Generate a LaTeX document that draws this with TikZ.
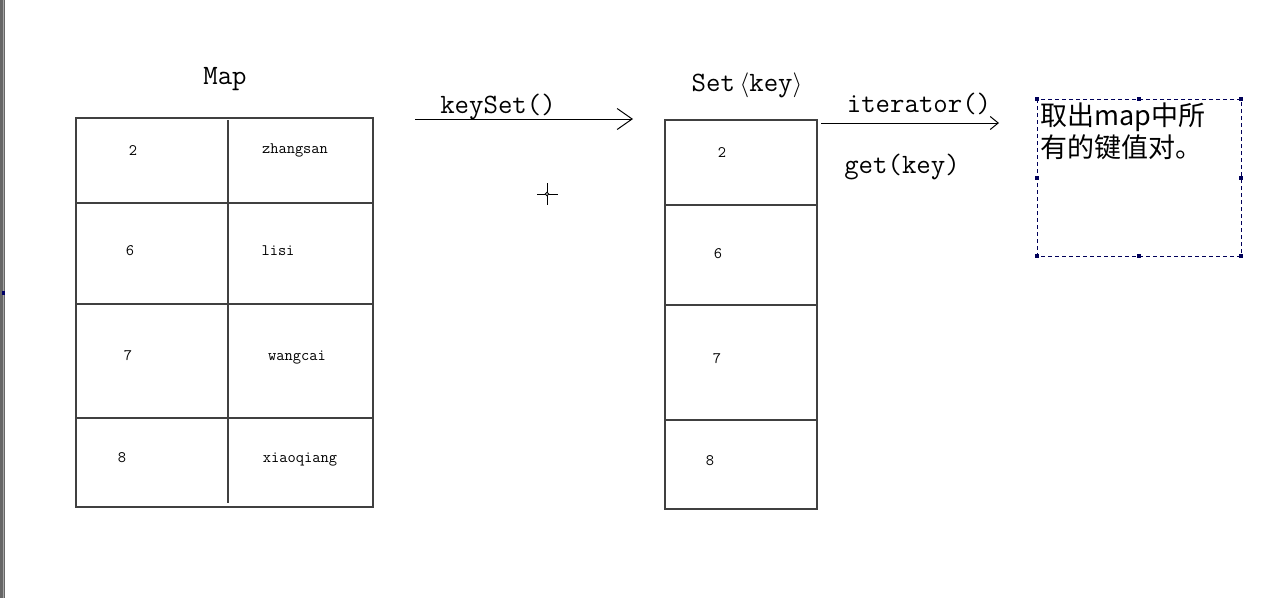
\documentclass[tikz,border=0pt]{standalone}
\usepackage{fontspec}
\usepackage{tikz}
\usetikzlibrary{arrows.meta}
\newfontfamily\cjk{Noto Sans CJK SC}

\tikzset{
  big/.style={font=\ttfamily\fontsize{28}{30}\selectfont, anchor=base},
  cell/.style={font=\ttfamily\fontsize{16}{18}\selectfont, anchor=base},
  note/.style={font=\cjk\fontsize{27}{30}\selectfont, anchor=base west},
  grid/.style={draw=black!75, line width=1.1pt},
  sel/.style={draw=blue!35!black, line width=0.9pt, dash pattern=on 4pt off 3pt}
}

\begin{document}
\begin{tikzpicture}[x=1pt,y=1pt]
\tikzstyle{every node}+=[inner sep=0pt]
\useasboundingbox (0,0) rectangle (1267,-598);
\fill [white] (0,0) rectangle (1267,-598);
\fill [black!60] (0,0) rectangle (5,-598);
\fill [black!35] (3,0) rectangle (4,-598);
\fill [blue!40!black] (2,-291) rectangle (5,-295);
% Map table
\draw (225,-84) node [big] (maptitle) {Map};
\draw [grid] (76,-118) rectangle (373,-507);
\draw [grid] (76,-203) -- (373,-203);
\draw [grid] (76,-304) -- (373,-304);
\draw [grid] (76,-418) -- (372,-418);
\draw [grid] (228,-120) -- (228,-503);
\draw (133,-155) node [cell] (mk2) {2};
\draw (295,-153) node [cell] (mv2) {zhangsan};
\draw (130,-255) node [cell] (mk6) {6};
\draw (278,-255) node [cell] (mv6) {lisi};
\draw (128,-360) node [cell] (mk7) {7};
\draw (297,-360) node [cell] (mv7) {wangcai};
\draw (122,-462) node [cell] (mk8) {8};
\draw (300,-462) node [cell] (mv8) {xiaoqiang};
% keySet arrow
\coordinate (ksA) at (415,-119);
\coordinate (ksB) at (633,-119);
\draw [line width=1pt, -{Straight Barb[length=15pt,width=21pt]}] (ksA) -- (ksB);
\draw (498,-113) node [big] (keyset) {keySet()};
% Set table
\draw (747,-91) node [big] (settitle) {Set\,$\langle$key$\rangle$};
\draw [grid] (665,-120) rectangle (817,-509);
\draw [grid] (665,-205) -- (817,-205);
\draw [grid] (665,-305) -- (817,-305);
\draw [grid] (665,-420) -- (817,-420);
\draw (722,-157) node [cell] (sk2) {2};
\draw (718,-258) node [cell] (sk6) {6};
\draw (717,-363) node [cell] (sk7) {7};
\draw (710,-465) node [cell] (sk8) {8};
% iterator arrow
\coordinate (itA) at (821,-123);
\coordinate (itB) at (999,-123);
\draw [line width=1pt, -{Straight Barb[length=8pt,width=13pt]}] (itA) -- (itB);
\draw (919,-112) node [big] (iter) {iterator()};
\draw (902,-173) node [big] (getkey) {get(key)};
% selected text box
\draw [sel] (1037,-99) rectangle (1241,-256);
\foreach \hx/\hy in {1037/99,1139/99,1241/99,1037/178,1241/178,1037/256,1139/256,1241/256}
  \fill [blue!35!black] (\hx-1.8,-\hy-1.8) rectangle (\hx+1.8,-\hy+1.8);
\draw (1040,-125) node [note] (note1) {取出map中所};
\draw (1040,-157) node [note] (note2) {有的键值对。};
% cursor
\draw [line width=1pt] (537,-194) -- (558,-194);
\draw [line width=1pt] (547,-183) -- (547,-205);
\draw [fill=white, line width=0.8pt] (547,-194) circle (1.8);
\end{tikzpicture}
\end{document}
